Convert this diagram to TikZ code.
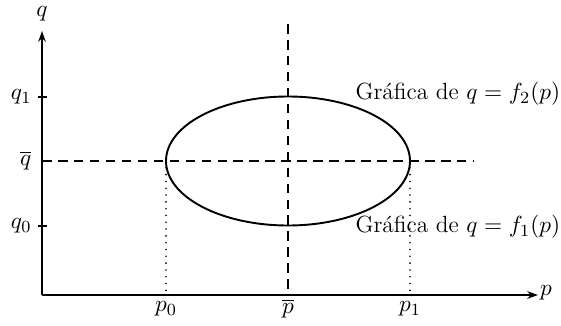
\documentclass[tikz,border=0pt]{standalone}
\usetikzlibrary{arrows.meta}
\begin{document}
\begin{tikzpicture}[x=0.47pt,y=-0.47pt,
  axis/.style={line width=0.9pt,-{Stealth[length=5pt,width=3.5pt]}},
  curve/.style={line width=0.9pt},
  guide/.style={line width=0.6pt,dash pattern=on 4.5pt off 3pt},
  dots/.style={line width=0.85pt,line cap=round,dash pattern=on 0pt off 3.2pt},
  tick/.style={line width=0.7pt},
  lbl/.style={inner sep=1pt,font=\fontsize{11}{13}\selectfont}]
\useasboundingbox (0,0) rectangle (561,326);
\coordinate (O) at (42,295);
\coordinate (Xend) at (538,295);
\coordinate (Yend) at (42,31);
\coordinate (C) at (288,161);
\coordinate (L) at (166,161);
\coordinate (R) at (410,161);
\coordinate (Lb) at (166,292);
\coordinate (Rb) at (410,292);
\coordinate (Vt) at (288,24);
\coordinate (Vb) at (288,295);
\coordinate (Hl) at (42,161);
\coordinate (Hr) at (474,161);
\coordinate (T1a) at (38,97);
\coordinate (T1b) at (47,97);
\coordinate (T0a) at (38,226);
\coordinate (T0b) at (47,226);
% dashed guides
\draw[guide] (Vt) -- (Vb);
\draw[guide] (Hl) -- (Hr);
% dotted
\draw[dots] (L) -- (Lb);
\draw[dots] (R) -- (Rb);
% ellipse
\draw[curve] (C) ellipse [x radius=122, y radius=64.5];
% axes
\draw[axis] (O) -- (Xend);
\draw[axis] (O) -- (Yend);
\draw[tick] (T1a) -- (T1b);
\draw[tick] (T0a) -- (T0b);
% labels
\node[lbl] (q) at (42,14) {$q$};
\node[lbl] (p) at (546,293) {$p$};
\node[lbl,anchor=east] (q1) at (34,97) {$q_1$};
\node[lbl,anchor=east] (qb) at (34,161) {$\overline{q}$};
\node[lbl,anchor=east] (q0) at (34,226) {$q_0$};
\node[lbl] (p0) at (166,309) {$p_0$};
\node[lbl] (pb) at (288,309) {$\overline{p}$};
\node[lbl] (p1) at (410,309) {$p_1$};
\node[lbl,anchor=west] (g2) at (353,94) {Gráfica de $q=f_2(p)$};
\node[lbl,anchor=west] (g1) at (353,227) {Gráfica de $q=f_1(p)$};
\end{tikzpicture}
\end{document}
